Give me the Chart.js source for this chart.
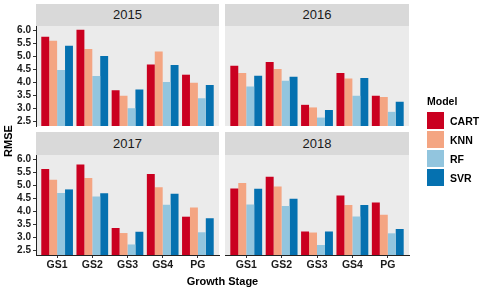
<!DOCTYPE html>
<html>
<head>
<meta charset="utf-8">
<script src="https://cdn.jsdelivr.net/npm/chart.js@4/dist/chart.umd.min.js"></script>
<style>
  html, body { margin: 0; padding: 0; background: #ffffff; }
  body { width: 480px; height: 290px; position: relative; overflow: hidden;
         font-family: "Liberation Sans", Arial, sans-serif; }
  canvas { position: absolute; }
  .strip { position: absolute; background: #D9D9D9; color: #1a1a1a; font-size: 13px;
           text-align: center; }
  .title { position: absolute; font-weight: bold; color: #000; font-size: 11px; white-space: nowrap; }
  .key { position: absolute; width: 17px; height: 17px; }
  .klab { position: absolute; font-weight: bold; font-size: 10.5px; color: #000; line-height: 12px; }
</style>
</head>
<body>
<canvas id="c2015" width="229" height="120" style="left:0px;top:16px"></canvas>
<canvas id="c2016" width="204" height="120" style="left:215px;top:16px"></canvas>
<canvas id="c2017" width="229" height="130" style="left:0px;top:145px"></canvas>
<canvas id="c2018" width="204" height="130" style="left:215px;top:145px"></canvas>
<div id="overlay"></div>
<script>
// ---------- data ----------
const categories = ['GS1', 'GS2', 'GS3', 'GS4', 'PG'];
const models = ['CART', 'KNN', 'RF', 'SVR'];
const years = ['2015', '2016', '2017', '2018'];
const yTicks = [2.5, 3.0, 3.5, 4.0, 4.5, 5.0, 5.5, 6.0];

const rmse2015_CART = [5.76, 6.03, 3.70, 4.69, 4.30];
const rmse2015_KNN  = [5.61, 5.29, 3.49, 5.19, 3.99];
const rmse2015_RF   = [4.48, 4.25, 3.01, 4.02, 3.39];
const rmse2015_SVR  = [5.41, 5.02, 3.73, 4.67, 3.90];

const rmse2016_CART = [4.64, 4.79, 3.14, 4.37, 3.49];
const rmse2016_KNN  = [4.37, 4.52, 3.04, 4.15, 3.44];
const rmse2016_RF   = [3.85, 4.07, 2.65, 3.49, 2.87];
const rmse2016_SVR  = [4.26, 4.22, 2.94, 4.17, 3.26];

const rmse2017_CART = [5.64, 5.81, 3.36, 5.44, 3.80];
const rmse2017_KNN  = [5.22, 5.29, 3.17, 4.93, 4.15];
const rmse2017_RF   = [4.71, 4.58, 2.73, 4.26, 3.20];
const rmse2017_SVR  = [4.85, 4.70, 3.22, 4.68, 3.74];

const rmse2018_CART = [4.89, 5.34, 3.23, 4.62, 4.35];
const rmse2018_KNN  = [5.10, 4.96, 3.19, 4.25, 3.87];
const rmse2018_RF   = [4.27, 4.21, 2.71, 3.81, 3.16];
const rmse2018_SVR  = [4.88, 4.49, 3.23, 4.25, 3.33];

const seriesByYear = {
  '2015': [rmse2015_CART, rmse2015_KNN, rmse2015_RF, rmse2015_SVR],
  '2016': [rmse2016_CART, rmse2016_KNN, rmse2016_RF, rmse2016_SVR],
  '2017': [rmse2017_CART, rmse2017_KNN, rmse2017_RF, rmse2017_SVR],
  '2018': [rmse2018_CART, rmse2018_KNN, rmse2018_RF, rmse2018_SVR]
};

// ---------- styles ----------
const colors = ['#CA0020', '#F4A582', '#92C5DE', '#0571B0'];
const FONT = '"Liberation Sans", Arial, sans-serif';
const PANEL_BG = '#EBEBEB';
const Y_MIN = 2.325, Y_MAX = 6.175;

const panelBg = {
  id: 'panelBg',
  beforeDraw(chart) {
    const a = chart.chartArea, ctx = chart.ctx;
    ctx.save();
    ctx.fillStyle = PANEL_BG;
    ctx.fillRect(a.left, a.top, a.right - a.left, a.bottom - a.top);
    ctx.restore();
  }
};

const layoutSpec = {
  '2015': { left: true,  bottom: false },
  '2016': { left: false, bottom: false },
  '2017': { left: true,  bottom: true },
  '2018': { left: false, bottom: true }
};

years.forEach(yr => {
  const spec = layoutSpec[yr];
  const datasets = models.map((m, k) => ({
    label: m,
    data: categories.map((c, i) => ({ x: i + 1, y: seriesByYear[yr][k][i] })),
    backgroundColor: colors[k],
    borderWidth: 0,
    categoryPercentage: 0.9,
    barPercentage: 1.0
  }));
  new Chart(document.getElementById('c' + yr), {
    type: 'bar',
    data: { datasets },
    options: {
      responsive: false,
      animation: false,
      devicePixelRatio: 1,
      layout: { padding: { top: 10, bottom: spec.bottom ? 0 : 10, left: spec.left ? 0 : 10, right: 10 } },
      plugins: { legend: { display: false }, tooltip: { enabled: false } },
      scales: {
        x: {
          type: 'linear',
          min: 0.4, max: 5.6,
          offset: false,
          display: spec.bottom,
          afterBuildTicks: s => { s.ticks = categories.map((c, i) => ({ value: i + 1 })); },
          afterFit: s => { if (spec.bottom) s.height = 20; },
          border: { display: true, color: '#222', width: 1 },
          grid: { drawOnChartArea: false, drawTicks: true, tickLength: 3, tickColor: '#333', offset: false },
          ticks: {
            autoSkip: false, maxRotation: 0, padding: 1,
            color: '#1a1a1a',
            font: { family: FONT, size: 10.5, weight: 'bold' },
            callback: v => categories[Math.round(v) - 1]
          }
        },
        y: {
          min: Y_MIN, max: Y_MAX,
          display: spec.left,
          afterBuildTicks: s => { s.ticks = yTicks.map(v => ({ value: v })); },
          afterFit: s => { if (spec.left) s.width = 36; },
          border: { display: true, color: '#222', width: 1 },
          grid: { drawOnChartArea: false, drawTicks: true, tickLength: 3, tickColor: '#333' },
          ticks: {
            autoSkip: false,
            padding: 2,
            color: '#1a1a1a',
            font: { family: FONT, size: 10, weight: 'bold' },
            callback: v => Number(v).toFixed(1)
          }
        }
      }
    },
    plugins: [panelBg]
  });
});

// ---------- strips, titles, legend (HTML text) ----------
const overlay = document.getElementById('overlay');
const stripPos = {
  '2015': { l: 36, t: 4, w: 183, h: 22 },
  '2016': { l: 225, t: 4, w: 184, h: 22 },
  '2017': { l: 36, t: 132, w: 183, h: 23 },
  '2018': { l: 225, t: 132, w: 184, h: 23 }
};
years.forEach(yr => {
  const p = stripPos[yr];
  const d = document.createElement('div');
  d.className = 'strip';
  d.style.cssText = `left:${p.l}px;top:${p.t}px;width:${p.w}px;height:${p.h}px;line-height:${p.h}px;`;
  d.textContent = yr;
  overlay.appendChild(d);
});

const xt = document.createElement('div');
xt.className = 'title';
xt.style.cssText = 'left:142px;width:161px;text-align:center;top:274px;line-height:14px;';
xt.textContent = 'Growth Stage';
overlay.appendChild(xt);

const yt = document.createElement('div');
yt.className = 'title';
yt.style.cssText = 'left:-22px;top:134px;width:60px;text-align:center;line-height:14px;transform:rotate(-90deg);';
yt.textContent = 'RMSE';
overlay.appendChild(yt);

const lt = document.createElement('div');
lt.className = 'title';
lt.style.cssText = 'left:427px;top:94px;line-height:14px;font-size:10.5px;';
lt.textContent = 'Model';
overlay.appendChild(lt);

models.forEach((m, k) => {
  const top = 112 + k * 19;
  const b = document.createElement('div');
  b.className = 'key';
  b.style.cssText = `left:427px;top:${top}px;background:${colors[k]};`;
  overlay.appendChild(b);
  const t = document.createElement('div');
  t.className = 'klab';
  t.style.cssText = `left:450px;top:${top + 2.5}px;`;
  t.textContent = m;
  overlay.appendChild(t);
});
</script>
</body>
</html>
